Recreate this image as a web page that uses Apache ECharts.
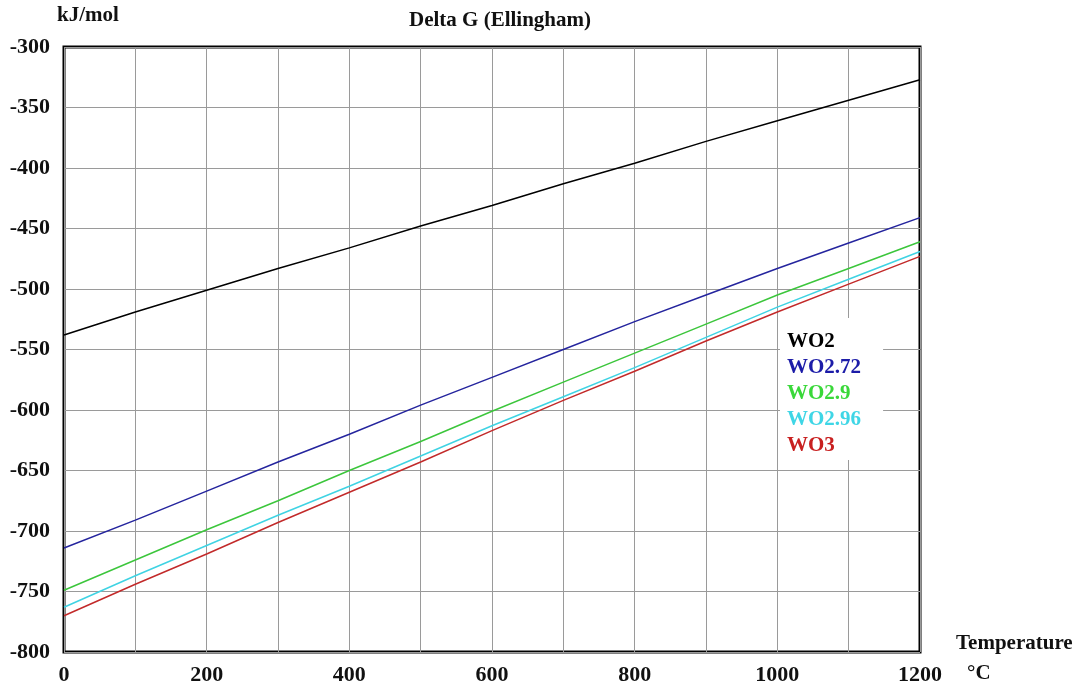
<!DOCTYPE html>
<html>
<head>
<meta charset="utf-8">
<script src="https://cdn.jsdelivr.net/npm/echarts@6/dist/echarts.min.js"></script>
<style>
  html, body { margin: 0; padding: 0; background: #fff; }
  #chart { width: 1084px; height: 686px; }
</style>
</head>
<body>
<div id="chart"></div>
<script>
// Temperature (°C) sample points
const temperatures = [0, 100, 200, 300, 400, 500, 600, 700, 800, 900, 1000, 1100, 1200];

// Gibbs free energy of formation, kJ/mol
const wo2   = [-538, -519, -501, -483, -466, -448, -431, -413, -396, -378, -361, -344, -327];
const wo272 = [-714, -691, -667, -643, -620, -596, -573, -550, -527, -505, -483, -462, -441];
const wo29  = [-749, -724, -699, -675, -650, -626, -601, -577, -553, -529, -505, -483, -461];
const wo296 = [-763, -737, -712, -687, -663, -638, -613, -589, -565, -540, -515, -492, -469];
const wo3   = [-770, -744, -719, -693, -668, -643, -617, -592, -568, -543, -519, -496, -473];

const seriesNames = ['WO2', 'WO2.72', 'WO2.9', 'WO2.96', 'WO3'];
const seriesValues = [wo2, wo272, wo29, wo296, wo3];
const lineColors = ['#000000', '#25259e', '#3cc63c', '#3fd3e3', '#c22a2a'];
const textColors = ['#000000', '#1c1ca8', '#3ad83a', '#3fd6e6', '#c82020'];

const serif = '"Liberation Serif", "DejaVu Serif", serif';

const chart = echarts.init(document.getElementById('chart'), null, { renderer: 'canvas' });

const series = seriesNames.map((name, i) => ({
  name: name,
  type: 'line',
  showSymbol: false,
  symbol: 'none',
  data: temperatures.map((t, k) => [t, seriesValues[i][k]]),
  lineStyle: { color: lineColors[i], width: 1.5 },
  itemStyle: { color: lineColors[i] },
  z: 3
}));

chart.setOption({
  animation: false,
  backgroundColor: '#ffffff',
  title: {
    text: 'Delta G (Ellingham)',
    left: 495,
    top: 5,
    textAlign: 'center',
    textStyle: { fontFamily: serif, fontWeight: 'bold', fontSize: 21, color: '#111' }
  },
  grid: {
    left: 64, top: 47, right: 164, bottom: 34,
    show: true,
    borderColor: '#000',
    borderWidth: 3,
    backgroundColor: '#fff',
    containLabel: false
  },
  legend: {
    orient: 'vertical',
    left: 780,
    top: 318,
    padding: [13, 22, 4, 2],
    itemGap: 5,
    itemWidth: 0,
    itemHeight: 0,
    backgroundColor: '#ffffff',
    selectedMode: false,
    textStyle: { fontFamily: serif, fontWeight: 'bold', fontSize: 21 },
    data: seriesNames.map((n, i) => ({ name: n, icon: 'rect', textStyle: { color: textColors[i] } }))
  },
  xAxis: {
    type: 'value',
    min: 0, max: 1200, interval: 200,
    axisLine: { show: false },
    axisTick: { show: false },
    splitLine: { show: true, lineStyle: { color: '#9a9a9a', width: 1 } },
    minorTick: { show: false, splitNumber: 2 },
    minorSplitLine: { show: true, lineStyle: { color: '#9a9a9a', width: 1 } },
    axisLabel: {
      margin: 12,
      formatter: v => String(v),
      fontFamily: serif, fontWeight: 'bold', fontSize: 22, color: '#111'
    }
  },
  yAxis: {
    type: 'value',
    min: -800, max: -300, interval: 50,
    axisLine: { show: false },
    axisTick: { show: false },
    splitLine: { show: true, lineStyle: { color: '#9a9a9a', width: 1 } },
    axisLabel: {
      margin: 14,
      formatter: v => String(v),
      fontFamily: serif, fontWeight: 'bold', fontSize: 22, color: '#111'
    }
  },
  graphic: [
    {
      type: 'text', left: 57, top: 5,
      style: { text: 'kJ/mol', font: 'bold 21px ' + serif, fill: '#111' }
    },
    {
      type: 'text', left: 956, top: 633,
      style: { text: 'Temperature', font: 'bold 21px ' + serif, fill: '#111' }
    },
    {
      type: 'text', left: 967, top: 663,
      style: { text: '°C', font: 'bold 21px ' + serif, fill: '#111' }
    }
  ],
  series: series
});
</script>
</body>
</html>
